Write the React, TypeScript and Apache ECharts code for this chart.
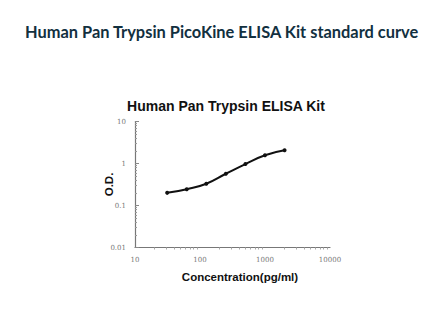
import React, { useEffect, useRef } from "react";
import * as echarts from "echarts";

const concentrations = [31.25, 62.5, 125, 250, 500, 1000, 2000];
const odValues = [0.2, 0.245, 0.33, 0.57, 0.97, 1.57, 2.06];
const pageTitle = "Human Pan Trypsin PicoKine ELISA Kit standard curve";
const chartTitle = "Human Pan Trypsin ELISA Kit";
const xName = "Concentration(pg/ml)";
const yName = "O.D.";

export default function App() {
  const ref = useRef<HTMLDivElement>(null);
  useEffect(() => {
    if (!ref.current) return;
    const chart = echarts.init(ref.current, undefined, { renderer: "svg" });
    const tickFont = {
      fontFamily: "DejaVu Serif",
      fontSize: 7,
      color: "#777",
    };
    chart.setOption({
      animation: false,
      backgroundColor: "#ffffff",
      title: [
        {
          text: pageTitle,
          left: 20,
          top: 18,
          textStyle: {
            fontFamily: "Lato",
            fontWeight: "bold",
            fontSize: 16.4,
            color: "#12303f",
          },
        },
        {
          text: chartTitle,
          left: 221,
          textAlign: "center",
          top: 94,
          textStyle: {
            fontFamily: "Liberation Sans",
            fontWeight: "bold",
            fontSize: 14,
            color: "#111",
          },
        },
      ],
      grid: { left: 135, right: 102, top: 121.5, bottom: 69.5 },
      xAxis: {
        type: "log",
        logBase: 10,
        min: 10,
        max: 10000,
        name: xName,
        nameLocation: "middle",
        nameGap: 23,
        nameMoveOverlap: false,
        nameTextStyle: {
          fontFamily: "Liberation Sans",
          fontWeight: "bold",
          fontSize: 11.5,
          color: "#111",
          padding: [0, 0, 0, 15],
        },
        axisLine: { lineStyle: { color: "#777", width: 1.2 } },
        axisTick: { show: false },
        minorTick: { show: true, splitNumber: 9, length: 2, lineStyle: { color: "#aaa" } },
        axisLabel: { ...tickFont, margin: 9, formatter: (v: number) => String(Math.round(v)) },
        splitLine: { show: false },
        minorSplitLine: { show: false },
      },
      yAxis: {
        type: "log",
        logBase: 10,
        min: 0.01,
        max: 10,
        name: yName,
        nameLocation: "middle",
        nameGap: 20,
        nameMoveOverlap: false,
        nameTextStyle: {
          fontFamily: "Liberation Sans",
          fontWeight: "bold",
          fontSize: 11.5,
          color: "#111",
        },
        axisLine: { lineStyle: { color: "#777", width: 1.2 } },
        axisTick: { show: true, inside: true, length: 4, lineStyle: { color: "#888" } },
        minorTick: { show: true, splitNumber: 9, length: 2, lineStyle: { color: "#999" } },
        axisLabel: {
          ...tickFont,
          margin: 9,
          formatter: (v: number) => String(Number(v.toPrecision(3))),
        },
        splitLine: { show: false },
        minorSplitLine: { show: false },
      },
      series: [
        {
          type: "line",
          data: concentrations.map((c, i) => [c, odValues[i]]),
          smooth: 0.5,
          symbol: "circle",
          symbolSize: 4,
          itemStyle: { color: "#111" },
          lineStyle: { color: "#111", width: 2 },
        },
      ],
    });
    return () => chart.dispose();
  }, []);
  return (
    <div
      ref={ref}
      style={{ position: "fixed", left: 0, top: 0, width: 432, height: 317 }}
    />
  );
}
